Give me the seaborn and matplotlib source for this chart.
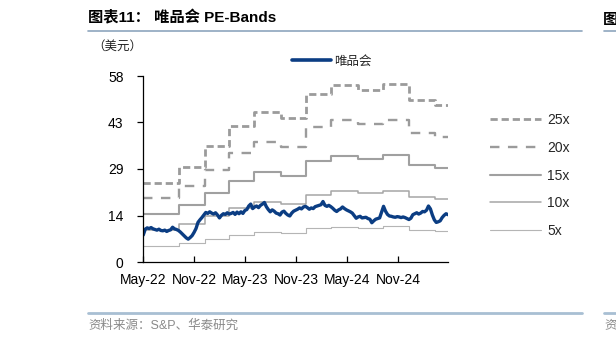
import matplotlib
matplotlib.use("Agg")
import matplotlib.pyplot as plt
from matplotlib.lines import Line2D
import seaborn as sns
import pandas as pd

# ---------------- data ----------------
price_start = "2022-05-02"
price = [8.4, 10.2, 10.6, 10.4, 10.7, 10.3, 10.1, 9.9, 10.2, 9.8,
         9.7, 9.9, 9.5, 9.8, 10.0, 10.8, 10.3, 10.1, 9.8, 9.3,
         8.7, 8.1, 7.5, 7.1, 7.6, 8.2, 9.2, 10.4, 12.3, 13.1,
         13.8, 14.6, 15.4, 15.1, 15.6, 15.2, 14.9, 15.3, 14.6, 13.7,
         14.5, 15.0, 14.8, 15.3, 14.9, 15.1, 15.4, 14.8, 15.5, 15.0,
         15.6, 15.1, 16.0, 16.3, 17.4, 18.0, 16.6, 17.1, 17.4, 16.9,
         17.6, 18.0, 18.5, 17.2, 16.3, 15.6, 16.2, 15.8, 15.2, 15.0,
         14.6, 15.5, 15.8, 15.1, 14.6, 14.3, 15.2, 15.8, 16.1, 16.4,
         16.8, 16.5, 17.1, 17.3, 16.9, 16.4, 16.8, 16.6, 17.2, 17.4,
         17.6, 17.8, 18.8, 17.6, 17.3, 17.6, 17.2, 16.7, 16.1, 15.7,
         16.2, 16.5, 17.1, 16.6, 16.2, 15.9, 15.6, 15.2, 14.4, 13.6,
         14.0, 14.2, 13.7, 13.8, 13.9, 13.5, 13.3, 12.2, 12.8, 13.3,
         13.5, 13.7, 15.5, 17.3, 15.8, 14.8, 14.3, 14.2, 14.0, 13.9,
         14.1, 14.0, 13.8, 14.0, 13.8, 13.5, 13.2, 13.6, 14.7, 15.0,
         15.3, 14.9, 15.2, 15.7, 15.6, 16.1, 17.4, 16.5, 14.6, 13.1,
         12.3, 12.5, 12.8, 13.8, 14.5, 15.0, 14.7]

step_dates = ["2022-05-01", "2022-09-06", "2022-12-08", "2023-03-05",
              "2023-06-01", "2023-09-06", "2023-12-07", "2024-03-05",
              "2024-06-08", "2024-09-06", "2024-12-08", "2025-03-11"]
end_date = "2025-04-28"
eps = [0.988, 1.184, 1.436, 1.688, 1.868, 1.792, 2.092, 2.204,
       2.144, 2.208, 2.012, 1.948]
multiples = [25, 20, 15, 10, 5]
band_labels = ["25x", "20x", "15x", "10x", "5x"]

yticks = [0, 14.45, 28.9, 43.35, 57.8]
ytick_labels = ["0", "14", "29", "43", "58"]
xtick_dates = ["2022-05-01", "2022-11-01", "2023-05-01",
               "2023-11-01", "2024-05-01", "2024-11-01"]
xtick_labels = ["May-22", "Nov-22", "May-23", "Nov-23", "May-24", "Nov-24"]

title = "图表11： 唯品会 PE-Bands"
unit = "（美元）"
source = "资料来源：S&P、华泰研究"
price_label = "唯品会"

# ---------------- style ----------------
sns.set_theme(style="ticks")
plt.rcParams["font.family"] = ["Liberation Sans", "Noto Sans CJK SC", "DejaVu Sans"]
cjk = ["Noto Sans CJK SC", "DejaVu Sans"]
mix = ["Liberation Sans", "Noto Sans CJK SC", "DejaVu Sans"]

fig = plt.figure(figsize=(6.16, 3.44), dpi=100)
ax = fig.add_axes([143 / 616, 1 - 262 / 344, (448 - 143) / 616, (262 - 76) / 344])

pdates = pd.date_range(price_start, periods=len(price), freq="7D")
df_price = pd.DataFrame({"date": pdates, "price": price})

bdates = pd.to_datetime(step_dates + [end_date])
band_styles = {
    "25x": dict(color="#9b9b9b", lw=2.0, dashes=(2.6, 1.4)),
    "20x": dict(color="#9b9b9b", lw=1.7, dashes=(4.0, 3.6)),
    "15x": dict(color="#a0a0a0", lw=1.5, dashes=None),
    "10x": dict(color="#a6a6a6", lw=1.1, dashes=None),
    "5x": dict(color="#b5b5b5", lw=0.8, dashes=None),
}
handles = []
for m, lab in zip(multiples, band_labels):
    vals = [m * e for e in eps] + [m * eps[-1]]
    dfb = pd.DataFrame({"date": bdates, "v": vals})
    st = band_styles[lab]
    sns.lineplot(data=dfb, x="date", y="v", ax=ax, color=st["color"],
                 linewidth=st["lw"], drawstyle="steps-post", legend=False)
    line = ax.get_lines()[-1]
    if st["dashes"] is not None:
        line.set_dashes(st["dashes"])
    h = Line2D([], [], color=st["color"], linewidth=st["lw"])
    if st["dashes"] is not None:
        h.set_dashes(st["dashes"])
    handles.append(h)

sns.lineplot(data=df_price, x="date", y="price", ax=ax, color="#0b3d83",
             linewidth=2.4, legend=False)

ax.set_xlim(pd.Timestamp("2022-05-01"), pd.Timestamp("2025-04-28"))
ax.set_ylim(0, 57.8)
ax.set_yticks(yticks)
ax.set_yticklabels(ytick_labels)
ax.set_xticks(pd.to_datetime(xtick_dates))
ax.set_xticklabels(xtick_labels)
ax.set_xlabel("")
ax.set_ylabel("")
for s in ["top", "right"]:
    ax.spines[s].set_visible(False)
for s in ["left", "bottom"]:
    ax.spines[s].set_color("#000000")
    ax.spines[s].set_linewidth(0.9)
ax.tick_params(axis="y", direction="out", length=4, width=0.9, colors="#000000",
               labelsize=10, pad=10)
ax.tick_params(axis="x", direction="in", length=4, width=0.9, colors="#000000",
               labelsize=10, pad=8)

leg1 = fig.legend([Line2D([], [], color="#0b3d83", lw=2.6)], [price_label],
                  loc="center left", bbox_to_anchor=(292 / 616, 1 - 61 / 344),
                  frameon=False, borderpad=0, borderaxespad=0, handlelength=3.1,
                  handletextpad=0.3, prop={"family": cjk, "size": 9})
leg2 = fig.legend(handles, band_labels, loc="center left",
                  bbox_to_anchor=(490 / 616, 1 - 175.5 / 344), frameon=False,
                  borderpad=0, borderaxespad=0, handlelength=3.65,
                  handletextpad=0.45, labelspacing=0.98,
                  prop={"family": mix, "size": 10})

fig.text(88 / 616, 1 - 18 / 344, title, fontsize=11, fontweight="bold",
         family=mix, va="center", ha="left", color="#000000")
fig.text(603 / 616, 1 - 18 / 344, "图表", fontsize=11, fontweight="bold",
         family=cjk, va="center", ha="left", color="#000000")
fig.add_artist(Line2D([88 / 616, 582 / 616], [1 - 31 / 344, 1 - 31 / 344],
                      color="#8ea5bd", lw=1.2))
fig.add_artist(Line2D([604 / 616, 1.0], [1 - 31 / 344, 1 - 31 / 344],
                      color="#8ea5bd", lw=1.2))
fig.text(92 / 616, 1 - 46 / 344, unit, fontsize=9, family=cjk,
         va="center", ha="left", color="#222222")
fig.add_artist(Line2D([88 / 616, 582 / 616], [1 - 313 / 344, 1 - 313 / 344],
                      color="#a8bfd3", lw=2.0))
fig.add_artist(Line2D([604 / 616, 1.0], [1 - 313 / 344, 1 - 313 / 344],
                      color="#a8bfd3", lw=2.0))
fig.text(88 / 616, 1 - 326 / 344, source, fontsize=9, family=mix,
         va="center", ha="left", color="#8a8a8a")
fig.text(604 / 616, 1 - 326 / 344, "资料", fontsize=9, family=cjk,
         va="center", ha="left", color="#8a8a8a")

fig.savefig("out.png", dpi=100)
